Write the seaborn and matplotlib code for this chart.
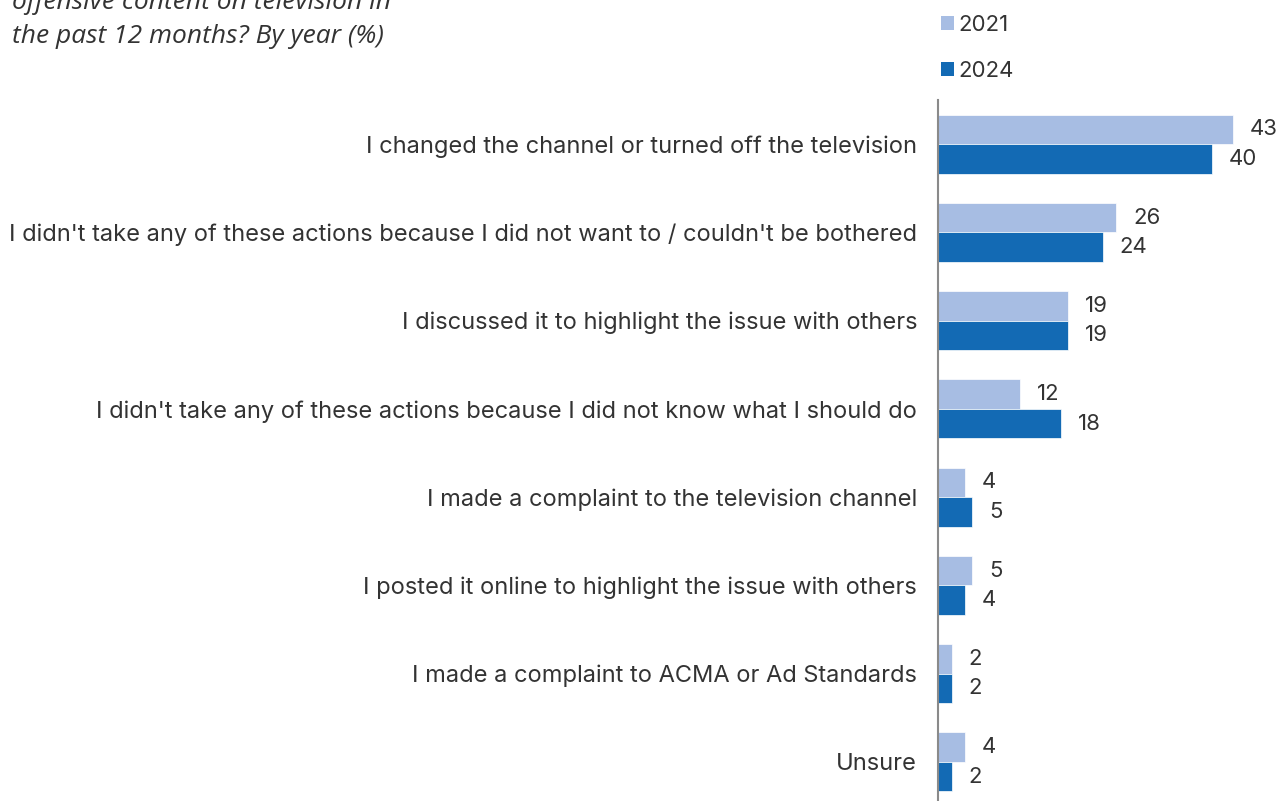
import pandas as pd
import matplotlib.pyplot as plt
import seaborn as sns
from matplotlib.patches import Patch

# Data
categories = [
    "I changed the channel or turned off the television",
    "I didn't take any of these actions because I did not want to / couldn't be bothered",
    "I discussed it to highlight the issue with others",
    "I didn't take any of these actions because I did not know what I should do",
    "I made a complaint to the television channel",
    "I posted it online to highlight the issue with others",
    "I made a complaint to ACMA or Ad Standards",
    "Unsure",
]
values_2021 = [43, 26, 19, 12, 4, 5, 2, 4]
values_2024 = [40, 24, 19, 18, 5, 4, 2, 2]
years = ["2021", "2024"]
colors = ["#A7BDE3", "#136AB4"]

df = pd.DataFrame({
    "action": categories * 2,
    "year": ["2021"] * len(categories) + ["2024"] * len(categories),
    "pct": values_2021 + values_2024,
})

sns.set_style("white")
plt.rcParams["font.family"] = ["Inter", "DejaVu Sans"]
TEXT = "#333333"

fig = plt.figure(figsize=(12.78, 8.01), dpi=100)
ax = fig.add_axes([938 / 1278, -5 / 801, 340 / 1278, 706 / 801])

sns.barplot(
    data=df, y="action", x="pct", hue="year",
    order=categories, hue_order=years, palette=colors, saturation=1,
    orient="h", width=0.67, dodge=True, legend=False,
    edgecolor="white", linewidth=0.5, ax=ax,
)

ax.set_xlim(0, 49.6)
ax.set_ylim(len(categories) - 0.5, -0.5)
ax.set_xlabel("")
ax.set_ylabel("")
ax.set_xticks([])
ax.tick_params(axis="y", length=0, pad=15, labelsize=17, labelcolor=TEXT)

for s in ["top", "right", "bottom"]:
    ax.spines[s].set_visible(False)
ax.spines["left"].set_color("#8a8a8a")
ax.spines["left"].set_linewidth(1.5)

for container in ax.containers:
    ax.bar_label(container, padding=12, fontsize=16, color=TEXT)

# Title (top part is cropped in the original)
fig.text(12 / 1278, 1 - 9 / 801, "offensive content on television in",
         fontsize=19, style="italic", color=TEXT, va="baseline",
         family=["Open Sans", "DejaVu Sans"])
fig.text(12 / 1278, 1 - 43 / 801, "the past 12 months? By year (%)",
         fontsize=19, style="italic", color=TEXT, va="baseline",
         family=["Open Sans", "DejaVu Sans"])

# Legend
handles = [Patch(facecolor=c, edgecolor="none") for c in colors]
fig.legend(
    handles, years, loc="upper left", bbox_to_anchor=(921 / 1278, 1 + 5 / 801),
    frameon=False, fontsize=16, handlelength=0.6, handleheight=0.6,
    handletextpad=0.2, labelspacing=1.15, labelcolor=TEXT,
)

fig.savefig("out.png", dpi=100)
